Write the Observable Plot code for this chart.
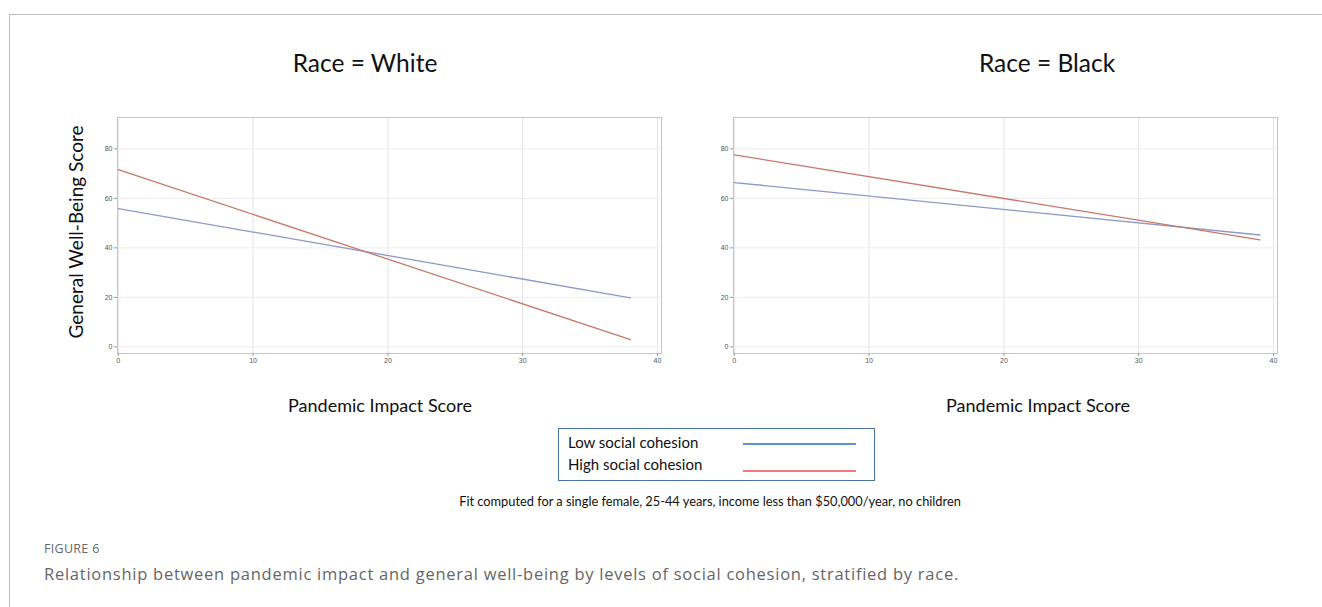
<!DOCTYPE html>
<html><head><meta charset="utf-8">
<script src="https://cdn.jsdelivr.net/npm/d3@7"></script>
<script src="https://cdn.jsdelivr.net/npm/@observablehq/plot@0.6"></script>
<style>
html,body{margin:0;padding:0;background:#fff;}
#root{position:relative;width:1322px;height:607px;overflow:hidden;font-family:Lato,"Open Sans",sans-serif;}
.abs{position:absolute;white-space:nowrap;}
.border{position:absolute;left:9px;top:14px;right:-5px;bottom:-5px;border-left:1.5px solid #bdbdbd;border-top:1.5px solid #bdbdbd;}
.title{font-size:24.5px;color:#111;transform:translate(-50%,-50%);}
.xlab{font-size:18px;color:#111;transform:translate(-50%,-50%);}
.ylab{font-size:19px;color:#111;transform:translate(-50%,-50%) rotate(-90deg);}
</style></head>
<body><div id="root">
<div class="border"></div>
</div>
<script>
const races = ["White", "Black"];
const cohesionLevels = ["Low social cohesion", "High social cohesion"];
const xTicks = [0, 10, 20, 30, 40];
const yTicks = [0, 20, 40, 60, 80];
// fitted line end points (Pandemic Impact Score -> General Well-Being Score)
const whiteX = [0, 38];
const whiteLow = [55.9, 19.8];
const whiteHigh = [71.6, 2.9];
const blackX = [0, 39];
const blackLow = [66.4, 45.2];
const blackHigh = [77.6, 43.2];
const lineColors = ["#8f98c8", "#c9776c"];
const legendColors = ["#5b8fd6", "#f4777b"];

const root = document.getElementById("root");
function add(cls, text, x, y, extra) {
  const d = document.createElement("div");
  d.className = "abs " + cls;
  d.textContent = text;
  d.style.left = x + "px"; d.style.top = y + "px";
  if (extra) Object.assign(d.style, extra);
  root.appendChild(d);
  return d;
}
function fit(el, target) {
  const w = el.getBoundingClientRect().width;
  const n = el.textContent.length;
  el.style.letterSpacing = ((target - w) / n) + "px";
}

function panel(xs, low, high) {
  const data = [
    ...xs.map((x, i) => ({x, y: low[i], g: cohesionLevels[0]})),
    ...xs.map((x, i) => ({x, y: high[i], g: cohesionLevels[1]}))
  ];
  return Plot.plot({
    width: 620, height: 280,
    marginLeft: 57, marginRight: 19, marginTop: 17, marginBottom: 27,
    x: {domain: [-0.06, 40.3]},
    y: {domain: [-2.7, 92.7]},
    color: {domain: cohesionLevels, range: lineColors},
    style: {fontFamily: "'Liberation Sans', Arial, sans-serif", fontSize: "7px", color: "#555", background: "transparent"},
    marks: [
      Plot.gridX(xTicks, {stroke: "#e4e4e4", strokeOpacity: 1}),
      Plot.gridY(yTicks, {stroke: "#ececec", strokeOpacity: 1}),
      Plot.frame({stroke: "#c4c8cc"}),
      Plot.axisX(xTicks, {tickSize: 3, tickPadding: 2, label: null, stroke: "#999", fill: "#555"}),
      Plot.axisY(yTicks, {tickSize: 3, tickPadding: 2, label: null, stroke: "#999", fill: "#555"}),
      Plot.line(data, {x: "x", y: "y", z: "g", stroke: "g", strokeWidth: 1.3})
    ]
  });
}

const p1 = panel(whiteX, whiteLow, whiteHigh);
p1.style.position = "absolute"; p1.style.left = "60px"; p1.style.top = "100px";
root.appendChild(p1);
const p2 = panel(blackX, blackLow, blackHigh);
p2.style.position = "absolute"; p2.style.left = "676px"; p2.style.top = "100px";
root.appendChild(p2);

add("title", "Race = " + races[0], 365, 62);
add("title", "Race = " + races[1], 1047, 62);
add("xlab", "Pandemic Impact Score", 380, 405);
add("xlab", "Pandemic Impact Score", 1038, 405);
add("ylab", "General Well-Being Score", 75, 232);

// legend box
const box = document.createElement("div");
Object.assign(box.style, {position: "absolute", left: "558px", top: "428px", width: "317px", height: "53px",
  border: "1.5px solid #4a74a8", boxSizing: "border-box"});
root.appendChild(box);
cohesionLevels.forEach((lab, i) => {
  add("", lab, 568, 433 + i * 22, {fontSize: "15px", color: "#111"});
  const ln = document.createElement("div");
  Object.assign(ln.style, {position: "absolute", left: "743px", top: (443 + i * 27) + "px", width: "113px", height: "2px", background: legendColors[i]});
  root.appendChild(ln);
});

add("", "Fit computed for a single female, 25-44 years, income less than $50,000/year, no children", 710, 501,
  {fontSize: "12.8px", color: "#111", transform: "translate(-50%,-50%)"});
add("", "FIGURE 6", 44, 540, {fontSize: "12.5px", color: "#666", letterSpacing: "0.3px", fontFamily: "'Open Sans', sans-serif"});
const cap = add("", "Relationship between pandemic impact and general well-being by levels of social cohesion, stratified by race.", 44, 562,
  {fontSize: "16.5px", color: "#666", fontFamily: "'Open Sans', sans-serif"});
fit(cap, 915);
</script>
</body></html>
